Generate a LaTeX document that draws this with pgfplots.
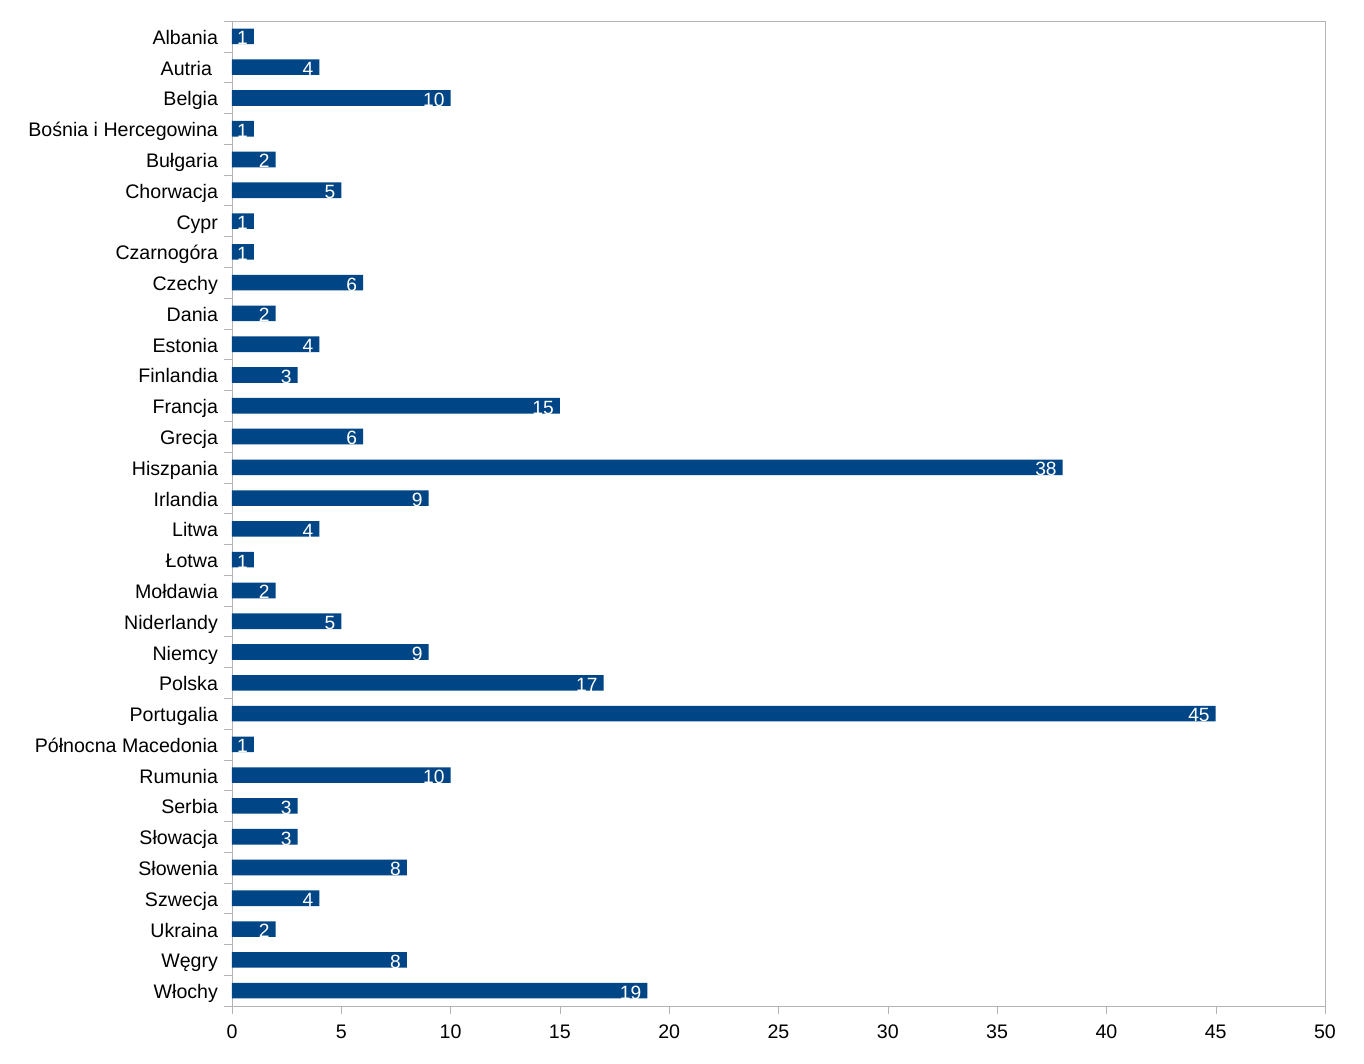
\documentclass[border=0pt]{standalone}
\usepackage{fontspec}
\setmainfont{Liberation Sans}
\usepackage{pgfplots}
\pgfplotsset{compat=1.18}
\definecolor{barblue}{HTML}{004586}
\definecolor{axgray}{HTML}{B3B3B3}
\begin{document}
\begin{tikzpicture}
\useasboundingbox (-116pt,-29pt) rectangle (566pt,503pt);
\begin{axis}[
  at={(0,0)}, anchor=south west,
  scale only axis,
  width=546.5pt, height=492.5pt,
  xbar, bar width=7.8pt,
  xmin=0, xmax=50,
  xtick={0,5,...,50},
  ymin=-0.5, ymax=31.5,
  y dir=reverse,
  ytick={0,...,31},
  yticklabels={Albania,Autria\kern3pt,Belgia,Bośnia i Hercegowina,Bułgaria,Chorwacja,Cypr,Czarnogóra,Czechy,Dania,Estonia,Finlandia,Francja,Grecja,Hiszpania,Irlandia,Litwa,Łotwa,Mołdawia,Niderlandy,Niemcy,Polska,Portugalia,Północna Macedonia,Rumunia,Serbia,Słowacja,Słowenia,Szwecja,Ukraina,Węgry,Włochy},
  minor ytick={-0.5,0.5,...,31.5},
  xtick pos=bottom, ytick pos=left,
  tick align=outside,
  major tick length=4pt,
  minor tick length=4pt,
  major y tick style={draw=none},
  minor y tick style={draw=axgray},
  xtick style={draw=axgray},
  axis line style={draw=axgray},
  /pgf/number format/assume math mode=true,
  tick label style={font=\fontsize{9.8}{12}\selectfont, text=black},
  yticklabel style={xshift=0.5pt, yshift=-1.4pt, text height=7.2pt, text depth=2pt},
  xticklabel style={yshift=-2pt},
  nodes near coords,
  every node near coord/.append style={anchor=east, xshift=0.5pt, yshift=-0.8pt, text=white, text height=6.8pt, text depth=0pt, font=\fontsize{9.6}{10}\selectfont},
]
\addplot[fill=barblue, draw=none] coordinates {
(1,0) (4,1) (10,2) (1,3) (2,4) (5,5) (1,6) (1,7) (6,8) (2,9) (4,10) (3,11) (15,12) (6,13) (38,14) (9,15) (4,16) (1,17) (2,18) (5,19) (9,20) (17,21) (45,22) (1,23) (10,24) (3,25) (3,26) (8,27) (4,28) (2,29) (8,30) (19,31)
};
\end{axis}
\end{tikzpicture}
\end{document}
